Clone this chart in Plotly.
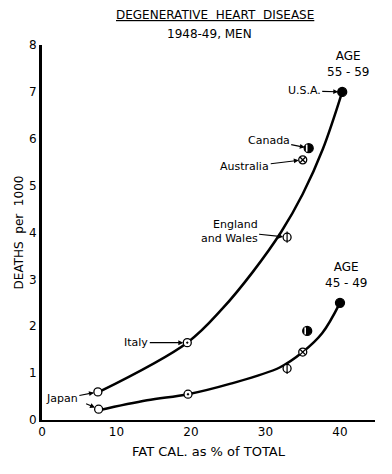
import plotly.graph_objects as go

# Data (fat calories % of total, deaths per 1000)
countries = ["Japan", "Italy", "England and Wales", "Australia", "Canada", "U.S.A."]
fat_pct_55 = [7.5, 19.5, 32.9, 35.0, 35.8, 40.3]
deaths_55 = [0.6, 1.65, 3.9, 5.55, 5.8, 7.0]
fat_pct_45 = [7.6, 19.6, 32.9, 35.0, 35.6, 40.0]
deaths_45 = [0.23, 0.55, 1.1, 1.45, 1.9, 2.5]
# hand-drawn trend curves
curve_55_x = [7.65, 19.5, 24.3, 28.3, 32.1, 35.0, 37.7, 40.3]
curve_55_y = [0.6, 1.65, 2.39, 3.16, 4.01, 4.82, 5.78, 7.0]
curve_45_x = [7.65, 14.1, 19.6, 25.2, 31.9, 35.0, 37.6, 40.0]
curve_45_y = [0.21, 0.42, 0.55, 0.77, 1.12, 1.45, 1.85, 2.5]
x_ticks = [0, 10, 20, 30, 40]
y_ticks = [0, 1, 2, 3, 4, 5, 6, 7, 8]

FONT = "DejaVu Sans"
fig = go.Figure()

for cx, cy in [(curve_55_x, curve_55_y), (curve_45_x, curve_45_y)]:
    fig.add_trace(go.Scatter(
        x=cx, y=cy, mode="lines",
        line=dict(color="black", width=2.5, shape="spline", smoothing=1.0),
        hoverinfo="skip", showlegend=False))

def marker_trace(i, symbol, color, lw=1.3, size=8, **extra):
    m = dict(symbol=symbol, size=size, color=color, line=dict(color="black", width=lw))
    m.update(extra)
    fig.add_trace(go.Scatter(
        x=[fat_pct_55[i], fat_pct_45[i]], y=[deaths_55[i], deaths_45[i]], mode="markers",
        marker=m, showlegend=False, hoverinfo="skip"))

marker_trace(0, "circle", "white")
marker_trace(1, "circle-dot", "white")
marker_trace(2, "circle", "white")
marker_trace(2, "line-ns", "black", lw=1.2)
marker_trace(3, "circle-x", "white")
# Canada: dark circle with a white crescent on the left
marker_trace(4, "circle", "black", size=9)
fig.add_trace(go.Scatter(
    x=[fat_pct_55[4], fat_pct_45[4]], y=[deaths_55[4], deaths_45[4]], mode="markers",
    marker=dict(symbol="line-ew", size=5, angle=90, standoff=2,
                line=dict(color="white", width=1.6)),
    showlegend=False, hoverinfo="skip"))
marker_trace(5, "circle", "black", size=9)

ann = []
def arrow(i, text, ax, ay, upper=True, align="center"):
    ann.append(dict(
        x=fat_pct_55[i] if upper else fat_pct_45[i],
        y=deaths_55[i] if upper else deaths_45[i],
        text=text, ax=ax, ay=ay, showarrow=True, arrowhead=2, arrowsize=0.9,
        arrowwidth=1.1, arrowcolor="black", standoff=4, align=align,
        font=dict(family=FONT, size=11, color="black")))

arrow(5, "U.S.A.", -38, -1)
arrow(4, "Canada", -40, -8)
arrow(3, "Australia", -58, 7)
arrow(2, "England<br>and Wales", -58, -6, align="right")
arrow(1, "Italy", -51, 0)
arrow(0, "Japan", -36, 7)
arrow(0, " ", -16, -7, upper=False)

ann.append(dict(x=40.3, y=7.0, text="AGE<br>55 - 59", showarrow=False, yshift=28, xshift=6,
                font=dict(family=FONT, size=12, color="black")))
ann.append(dict(x=40.0, y=2.5, text="AGE<br>45 - 49", showarrow=False, yshift=28, xshift=7,
                font=dict(family=FONT, size=12, color="black")))
ann.append(dict(xref="paper", yref="paper", x=(215 - 42) / 333, y=1 + (45 - 15) / 375,
                xanchor="center", yanchor="middle",
                text="<u>DEGENERATIVE  HEART  DISEASE</u>", showarrow=False,
                font=dict(family=FONT, size=12, color="black")))
ann.append(dict(xref="paper", yref="paper", x=(210 - 42) / 333, y=1 + (45 - 34) / 375,
                xanchor="center", yanchor="middle",
                text="1948-49, MEN", showarrow=False,
                font=dict(family=FONT, size=12, color="black")))

# the page body has an 8px default margin, so margins are offset to compensate
fig.update_layout(
    width=392, height=474, autosize=False,
    margin=dict(l=34, r=25, t=37, b=62),
    paper_bgcolor="white", plot_bgcolor="white",
    annotations=ann,
    font=dict(family=FONT, color="black"),
    xaxis=dict(range=[0, 44.7], showline=True, linewidth=2, linecolor="black",
               showgrid=False, zeroline=False, ticks="", tickvals=x_ticks,
               tickfont=dict(size=12), automargin=False,
               title=dict(text="FAT CAL. as % of TOTAL", font=dict(size=13), standoff=8)),
    yaxis=dict(range=[0, 8], showline=True, linewidth=3, linecolor="black",
               showgrid=False, zeroline=False, ticks="", tickvals=y_ticks,
               tickfont=dict(size=12), automargin=False,
               title=dict(text="DEATHS  per  1000", font=dict(size=12), standoff=3)),
)

fig.write_html("out.html")
